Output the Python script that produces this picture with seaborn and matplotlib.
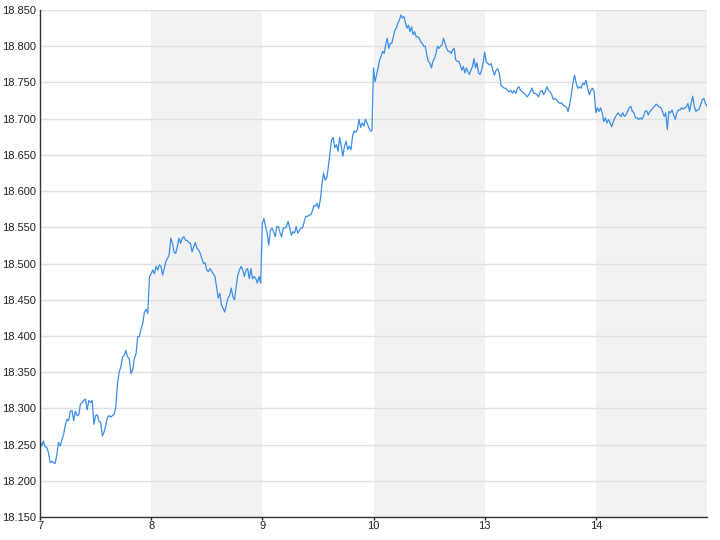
import numpy as np
import pandas as pd
import matplotlib
matplotlib.use("Agg")
import matplotlib.pyplot as plt
from matplotlib.ticker import FormatStrFormatter
import seaborn as sns

# trading days shown on the x axis (weekend 11/12 skipped)
day_labels = ["7", "8", "9", "10", "13", "14"]

day7 = [18.255, 18.248, 18.255, 18.247, 18.246, 18.239, 18.225, 18.227, 18.225, 18.224,
        18.236, 18.253, 18.248, 18.257, 18.264, 18.276, 18.285, 18.283, 18.296, 18.297,
        18.283, 18.296, 18.290, 18.291, 18.306, 18.308, 18.311, 18.313, 18.298, 18.311,
        18.308, 18.311, 18.278, 18.290, 18.291, 18.282, 18.281, 18.262, 18.267, 18.276,
        18.287, 18.290, 18.288, 18.290, 18.292, 18.301, 18.334, 18.350, 18.357, 18.371,
        18.373, 18.380, 18.371, 18.369, 18.348, 18.353, 18.369, 18.375, 18.399, 18.399,
        18.410, 18.417, 18.433, 18.437, 18.431, 18.482]

day8 = [18.486, 18.491, 18.486, 18.496, 18.491, 18.498, 18.496, 18.484, 18.493, 18.503,
        18.507, 18.512, 18.535, 18.528, 18.516, 18.514, 18.523, 18.535, 18.528, 18.535,
        18.537, 18.532, 18.532, 18.529, 18.528, 18.516, 18.523, 18.529, 18.521, 18.519,
        18.514, 18.507, 18.500, 18.501, 18.491, 18.489, 18.493, 18.489, 18.486, 18.482,
        18.468, 18.452, 18.459, 18.443, 18.438, 18.433, 18.443, 18.452, 18.456, 18.466,
        18.454, 18.450, 18.468, 18.484, 18.491, 18.496, 18.491, 18.482, 18.491, 18.493,
        18.479, 18.493, 18.479, 18.482, 18.479, 18.473, 18.482, 18.473]

day9 = [18.556, 18.562, 18.551, 18.542, 18.525, 18.546, 18.549, 18.544, 18.537, 18.551,
        18.551, 18.542, 18.537, 18.549, 18.549, 18.551, 18.558, 18.549, 18.539, 18.544,
        18.542, 18.551, 18.542, 18.546, 18.549, 18.549, 18.558, 18.565, 18.565, 18.567,
        18.567, 18.572, 18.580, 18.579, 18.583, 18.576, 18.588, 18.609, 18.625, 18.615,
        18.618, 18.634, 18.653, 18.671, 18.674, 18.660, 18.664, 18.655, 18.674, 18.662,
        18.648, 18.662, 18.669, 18.657, 18.662, 18.657, 18.676, 18.683, 18.681, 18.685,
        18.699, 18.688, 18.694, 18.690, 18.699, 18.694, 18.688, 18.683, 18.683]

day10 = [18.770, 18.751, 18.760, 18.770, 18.781, 18.786, 18.793, 18.790, 18.802, 18.811,
         18.797, 18.804, 18.804, 18.813, 18.822, 18.825, 18.832, 18.836, 18.843, 18.839,
         18.841, 18.832, 18.825, 18.829, 18.820, 18.827, 18.816, 18.820, 18.813, 18.813,
         18.811, 18.806, 18.804, 18.800, 18.800, 18.788, 18.779, 18.777, 18.770, 18.779,
         18.783, 18.790, 18.800, 18.797, 18.800, 18.802, 18.811, 18.804, 18.797, 18.793,
         18.793, 18.790, 18.795, 18.797, 18.781, 18.779, 18.779, 18.774, 18.767, 18.772,
         18.763, 18.770, 18.765, 18.761, 18.767, 18.772, 18.783, 18.770, 18.777, 18.763,
         18.761, 18.767, 18.777]

day13 = [18.792, 18.778, 18.776, 18.774, 18.776, 18.767, 18.760, 18.767, 18.769, 18.762,
         18.746, 18.744, 18.742, 18.742, 18.739, 18.737, 18.739, 18.735, 18.739, 18.735,
         18.742, 18.744, 18.739, 18.737, 18.735, 18.733, 18.730, 18.733, 18.737, 18.742,
         18.735, 18.735, 18.733, 18.730, 18.737, 18.739, 18.733, 18.737, 18.744, 18.739,
         18.737, 18.733, 18.726, 18.728, 18.726, 18.723, 18.721, 18.722, 18.719, 18.717,
         18.716, 18.710, 18.719, 18.733, 18.749, 18.760, 18.749, 18.742, 18.744, 18.742,
         18.749, 18.747, 18.753, 18.742, 18.733, 18.739, 18.742, 18.737]

day14 = [18.708, 18.715, 18.710, 18.715, 18.708, 18.696, 18.701, 18.694, 18.699, 18.694,
         18.689, 18.696, 18.701, 18.705, 18.708, 18.705, 18.703, 18.708, 18.703, 18.705,
         18.710, 18.715, 18.717, 18.710, 18.708, 18.701, 18.701, 18.699, 18.701, 18.699,
         18.703, 18.710, 18.711, 18.705, 18.710, 18.712, 18.715, 18.717, 18.720, 18.718,
         18.716, 18.715, 18.710, 18.703, 18.708, 18.685, 18.710, 18.708, 18.712, 18.705,
         18.699, 18.708, 18.712, 18.712, 18.715, 18.713, 18.715, 18.716, 18.721, 18.710,
         18.721, 18.731, 18.717, 18.710, 18.712, 18.713, 18.719, 18.726, 18.728, 18.721,
         18.717]

y_ticks = [18.15, 18.20, 18.25, 18.30, 18.35, 18.40, 18.45, 18.50,
           18.55, 18.60, 18.65, 18.70, 18.75, 18.80, 18.85]

sessions = [day7, day8, day9, day10, day13, day14]

frames = []
for i, vals in enumerate(sessions):
    last = i == len(sessions) - 1
    pos = np.linspace(i, i + 1, len(vals), endpoint=last)
    frames.append(pd.DataFrame({"pos": pos, "price": vals}))
df = pd.concat(frames, ignore_index=True)

sns.set_theme(style="white")
plt.rcParams['font.family'] = ['Liberation Sans', 'DejaVu Sans']

fig = plt.figure(figsize=(7.2, 5.4), dpi=100)
ax = fig.add_axes([40 / 720, 23 / 540, 667 / 720, 507 / 540])

# shade every other trading day
for i in range(1, len(sessions), 2):
    ax.axvspan(i, i + 1, color="#f2f2f2", lw=0, zorder=0)

sns.lineplot(data=df, x="pos", y="price", ax=ax, color="#3a8ee6", linewidth=0.9)

ax.set_xlim(0, len(sessions))
ax.set_ylim(y_ticks[0], y_ticks[-1])
ax.set_xticks(range(len(day_labels)))
ax.set_xticklabels(day_labels)
ax.set_yticks(y_ticks)
ax.yaxis.set_major_formatter(FormatStrFormatter("%.3f"))
ax.grid(axis="y", color="#e0e0e0", linewidth=1)
ax.set_axisbelow(True)
ax.set_xlabel("")
ax.set_ylabel("")

for side in ["top", "right"]:
    ax.spines[side].set_visible(False)
for side in ["left", "bottom"]:
    ax.spines[side].set_color("#333333")
    ax.spines[side].set_linewidth(1)

ax.tick_params(axis="y", length=0, pad=3, labelsize=8, colors="#222222")
ax.tick_params(axis="x", length=2.5, width=1, pad=0.5, labelsize=8, colors="#222222", bottom=True)

fig.savefig("out.png", dpi=100)
